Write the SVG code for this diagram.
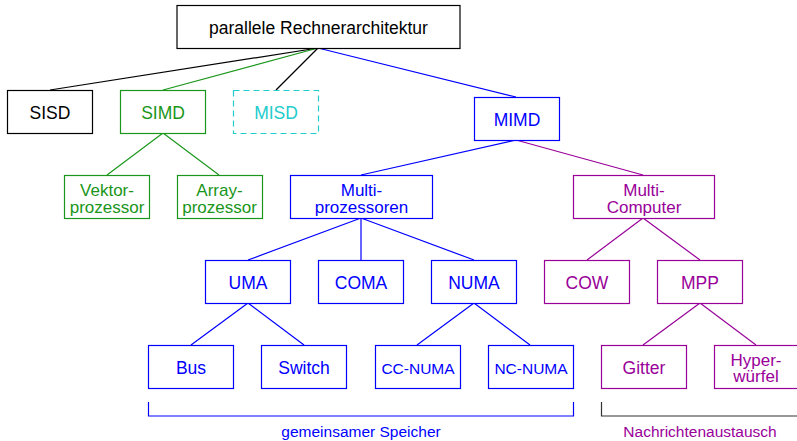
<svg xmlns="http://www.w3.org/2000/svg" width="797" height="441" viewBox="0 0 797 441">
<style>
text{font-family:"Liberation Sans",Arial,sans-serif;font-size:17.5px;text-anchor:middle;stroke:none}
rect{fill:#fff;stroke-width:1.2}
line,polyline{fill:none;stroke-width:1.2}
.k{stroke:#000}
.g{stroke:#1a961a}
.c{stroke:#22cccc}
.b{stroke:#0000ff}
.p{stroke:#990099}
.tk{fill:#000}
.tg{fill:#1a961a}
.tc{fill:#22cccc}
.tb{fill:#0000ff}
.tp{fill:#990099}
.sm{font-size:15.5px}
.two{font-size:17px}
</style>
<g id="connectors">
<line class="k" x1="318" y1="48" x2="50" y2="90"/>
<line class="g" x1="318" y1="48" x2="163" y2="90"/>
<line class="k" x1="318" y1="48" x2="276" y2="90"/>
<line class="b" x1="318" y1="48" x2="516" y2="97"/>
<line class="g" x1="163" y1="133" x2="107" y2="175"/>
<line class="g" x1="163" y1="133" x2="219" y2="175"/>
<line class="b" x1="516" y1="140" x2="361" y2="175"/>
<line class="p" x1="516" y1="140" x2="643" y2="175"/>
<line class="b" x1="361" y1="218" x2="248" y2="260"/>
<line class="b" x1="361" y1="218" x2="361" y2="260"/>
<line class="b" x1="361" y1="218" x2="474" y2="260"/>
<line class="p" x1="643" y1="218" x2="587" y2="260"/>
<line class="p" x1="643" y1="218" x2="700" y2="260"/>
<line class="b" x1="248" y1="303" x2="191" y2="345"/>
<line class="b" x1="248" y1="303" x2="304" y2="345"/>
<line class="b" x1="474" y1="303" x2="417" y2="345"/>
<line class="b" x1="474" y1="303" x2="530" y2="345"/>
<line class="p" x1="700" y1="303" x2="643" y2="345"/>
<line class="p" x1="700" y1="303" x2="756" y2="345"/>
</g>
<g id="root"><rect class="k" x="177" y="5.5" width="283" height="43"/><text class="tk" x="318.5" y="34">parallele Rechnerarchitektur</text></g>
<g id="sisd"><rect class="k" x="7.5" y="90.5" width="85" height="43"/><text class="tk" x="50" y="118.5">SISD</text></g>
<g id="simd"><rect class="g" x="120.5" y="90.5" width="85" height="43"/><text class="tg" x="163" y="118.5">SIMD</text></g>
<g id="misd"><rect class="c" x="233.5" y="90.5" width="85" height="43" stroke-dasharray="6,4"/><text class="tc" x="276" y="118.5">MISD</text></g>
<g id="mimd"><rect class="b" x="474.5" y="97.5" width="85" height="43"/><text class="tb" x="517" y="126">MIMD</text></g>
<g id="vektor"><rect class="g" x="64.5" y="175.5" width="85" height="43"/><text class="tg two" x="107" y="196">Vektor-</text><text class="tg two" x="107" y="212.5">prozessor</text></g>
<g id="array"><rect class="g" x="177.5" y="175.5" width="85" height="43"/><text class="tg two" x="219.5" y="196">Array-</text><text class="tg two" x="219.5" y="212.5">prozessor</text></g>
<g id="multiprozessoren"><rect class="b" x="290.5" y="175.5" width="142" height="43"/><text class="tb two" x="361.5" y="196">Multi-</text><text class="tb two" x="361.5" y="212.5">prozessoren</text></g>
<g id="multicomputer"><rect class="p" x="573.5" y="175.5" width="141" height="43"/><text class="tp two" x="644" y="196">Multi-</text><text class="tp two" x="644" y="212.5">Computer</text></g>
<g id="uma"><rect class="b" x="205.5" y="260.5" width="85" height="43"/><text class="tb" x="248" y="289">UMA</text></g>
<g id="coma"><rect class="b" x="318.5" y="260.5" width="85" height="43"/><text class="tb" x="361" y="289">COMA</text></g>
<g id="numa"><rect class="b" x="431.5" y="260.5" width="85" height="43"/><text class="tb" x="474" y="289">NUMA</text></g>
<g id="cow"><rect class="p" x="544.5" y="260.5" width="85" height="43"/><text class="tp" x="587" y="289">COW</text></g>
<g id="mpp"><rect class="p" x="657.5" y="260.5" width="85" height="43"/><text class="tp" x="700" y="289">MPP</text></g>
<g id="bus"><rect class="b" x="148.5" y="345.5" width="85" height="43"/><text class="tb" x="191" y="374">Bus</text></g>
<g id="switch"><rect class="b" x="261.5" y="345.5" width="85" height="43"/><text class="tb" x="304" y="374">Switch</text></g>
<g id="ccnuma"><rect class="b" x="375.5" y="345.5" width="85" height="43"/><text class="tb sm" x="418" y="374">CC-NUMA</text></g>
<g id="ncnuma"><rect class="b" x="488.5" y="345.5" width="85" height="43"/><text class="tb sm" x="531" y="374">NC-NUMA</text></g>
<g id="gitter"><rect class="p" x="601.5" y="345.5" width="85" height="43"/><text class="tp" x="644" y="374">Gitter</text></g>
<g id="hyperwuerfel"><rect class="p" x="714.5" y="345.5" width="85" height="43"/><text class="tp two" x="756" y="365.5">Hyper-</text><text class="tp two" x="756" y="382">würfel</text></g>
<g id="gemeinsam"><polyline class="b" points="148.5,402 148.5,416 573.5,416 573.5,402"/><text class="tb sm" x="361" y="437">gemeinsamer Speicher</text></g>
<g id="nachrichten"><polyline points="601.5,402 601.5,416 800,416" style="stroke:#333"/><text class="tp sm" x="700" y="437">Nachrichtenaustausch</text></g>
</svg>
